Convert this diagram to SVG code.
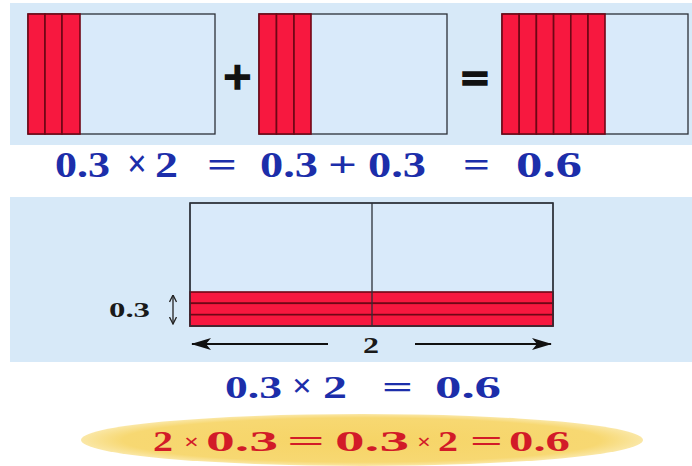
<svg xmlns="http://www.w3.org/2000/svg" width="692" height="466" viewBox="0 0 692 466">
  <defs>
    <style>
      .bg { fill: #d7e9f8; }
      .box { fill: #d9eafa; stroke: #2b3038; stroke-width: 1.3; }
      .strip { fill: #f7183f; stroke: #6e0716; stroke-width: 1.6; }
      .blue { font-family: "Liberation Serif", "Times New Roman", serif; font-weight: bold; fill: #1c2eaa; }
      .red { font-family: "Liberation Serif", "Times New Roman", serif; font-weight: bold; fill: #d21b28; }
      .blk { font-family: "Liberation Serif", "Times New Roman", serif; font-weight: bold; fill: #1a1a1a; }
      .sym { font-family: "DejaVu Sans", sans-serif; font-weight: bold; fill: #111; stroke: #111; stroke-width: 1.5; }
      .arrow { stroke: #111; stroke-width: 2.2; fill: none; }
      .darrow { stroke: #222; stroke-width: 1.3; fill: none; }
    </style>
    <marker id="head" viewBox="0 0 20 12" refX="19" refY="6" markerWidth="20" markerHeight="12" markerUnits="userSpaceOnUse" orient="auto-start-reverse">
      <path d="M0,0 L20,6 L0,12 L5,6 Z" fill="#111"/>
    </marker>
    <marker id="small" viewBox="0 0 8 8" refX="7.5" refY="4" markerWidth="8" markerHeight="8" markerUnits="userSpaceOnUse" orient="auto-start-reverse">
      <path d="M0.5,0.5 L7.5,4 L0.5,7.5" fill="none" stroke="#222" stroke-width="1.3"/>
    </marker>
    <radialGradient id="ellg" cx="0.5" cy="0.5" r="0.5">
      <stop offset="0" stop-color="#f6d466"/>
      <stop offset="0.85" stop-color="#f7d872"/>
      <stop offset="1" stop-color="#fae7a6"/>
    </radialGradient>
  </defs>

  <rect width="692" height="466" fill="#ffffff"/>

  <g id="top-panel">
    <rect class="bg" x="10" y="3" width="682" height="142"/>
    <g id="box1">
      <rect class="box" x="28" y="14" width="187" height="120"/>
      <rect class="strip" x="28" y="14" width="17" height="120"/>
      <rect class="strip" x="45" y="14" width="17" height="120"/>
      <rect class="strip" x="62" y="14" width="18" height="120"/>
    </g>
    <g id="plus">
      <text class="sym" x="237.5" y="89" font-size="38" text-anchor="middle">+</text>
    </g>
    <g id="box2">
      <rect class="box" x="259" y="14" width="188" height="120"/>
      <rect class="strip" x="259" y="14" width="17.5" height="120"/>
      <rect class="strip" x="276.5" y="14" width="17.5" height="120"/>
      <rect class="strip" x="294" y="14" width="17" height="120"/>
    </g>
    <g id="equals">
      <text class="sym" x="475" y="90" font-size="38" text-anchor="middle">=</text>
    </g>
    <g id="box3">
      <rect class="box" x="502" y="14" width="186" height="120"/>
      <rect class="strip" x="502" y="14" width="17.2" height="120"/>
      <rect class="strip" x="519.2" y="14" width="17.2" height="120"/>
      <rect class="strip" x="536.4" y="14" width="17.2" height="120"/>
      <rect class="strip" x="553.6" y="14" width="17.2" height="120"/>
      <rect class="strip" x="570.8" y="14" width="17.2" height="120"/>
      <rect class="strip" x="588" y="14" width="17" height="120"/>
    </g>
  </g>

  <g id="equation1" class="blue" font-size="35">
    <text x="55" y="177" textLength="55" lengthAdjust="spacingAndGlyphs">0.3</text>
    <text x="127" y="177" textLength="20" lengthAdjust="spacingAndGlyphs" font-size="40">×</text>
    <text x="155" y="177" textLength="23" lengthAdjust="spacingAndGlyphs">2</text>
    <text x="207" y="177" textLength="30" lengthAdjust="spacingAndGlyphs">=</text>
    <text x="260" y="177" textLength="58" lengthAdjust="spacingAndGlyphs">0.3</text>
    <text x="328" y="177" textLength="29" lengthAdjust="spacingAndGlyphs">+</text>
    <text x="368" y="177" textLength="58" lengthAdjust="spacingAndGlyphs">0.3</text>
    <text x="463" y="177" textLength="27" lengthAdjust="spacingAndGlyphs">=</text>
    <text x="516" y="177" textLength="66" lengthAdjust="spacingAndGlyphs">0.6</text>
  </g>

  <g id="bottom-panel">
    <rect class="bg" x="10" y="197" width="682" height="165"/>
    <g id="area-box">
      <rect class="box" x="190" y="203" width="363" height="123"/>
      <rect class="strip" x="190" y="292" width="363" height="11.3"/>
      <rect class="strip" x="190" y="303.3" width="363" height="11.4"/>
      <rect class="strip" x="190" y="314.7" width="363" height="11.3"/>
      <line x1="372" y1="203" x2="372" y2="326" stroke="#2b3038" stroke-width="1.3"/>
      <rect x="190" y="203" width="363" height="123" fill="none" stroke="#2b3038" stroke-width="1.3"/>
    </g>
    <g id="label-03">
      <text class="blk" x="109" y="317" font-size="22" textLength="41" lengthAdjust="spacingAndGlyphs">0.3</text>
    </g>
    <g id="label-2">
      <text class="blk" x="363" y="353" font-size="24" textLength="16" lengthAdjust="spacingAndGlyphs">2</text>
    </g>
  </g>

  <g id="connectors">
    <line class="darrow" x1="173" y1="295" x2="173" y2="324" marker-start="url(#small)" marker-end="url(#small)"/>
    <line class="arrow" x1="328" y1="344" x2="192" y2="344" marker-end="url(#head)"/>
    <line class="arrow" x1="415" y1="344" x2="551" y2="344" marker-end="url(#head)"/>
  </g>

  <g id="equation2" class="blue" font-size="32">
    <text x="225" y="398" textLength="57" lengthAdjust="spacingAndGlyphs">0.3</text>
    <text x="292" y="397" textLength="20" lengthAdjust="spacingAndGlyphs" font-size="34">×</text>
    <text x="323" y="398" textLength="24" lengthAdjust="spacingAndGlyphs">2</text>
    <text x="382" y="398" textLength="31" lengthAdjust="spacingAndGlyphs">=</text>
    <text x="435" y="398" textLength="66" lengthAdjust="spacingAndGlyphs">0.6</text>
  </g>

  <g id="summary">
    <ellipse cx="362" cy="440" rx="281" ry="26" fill="url(#ellg)"/>
    <g class="red" font-size="29">
      <text x="153" y="451" textLength="20" lengthAdjust="spacingAndGlyphs">2</text>
      <text x="184" y="449" font-size="22" textLength="15" lengthAdjust="spacingAndGlyphs">×</text>
      <text x="206" y="451" textLength="72" lengthAdjust="spacingAndGlyphs">0.3</text>
      <text x="287" y="451" textLength="38" lengthAdjust="spacingAndGlyphs">=</text>
      <text x="335" y="451" textLength="74" lengthAdjust="spacingAndGlyphs">0.3</text>
      <text x="417" y="449" font-size="22" textLength="14" lengthAdjust="spacingAndGlyphs">×</text>
      <text x="438" y="451" textLength="20" lengthAdjust="spacingAndGlyphs">2</text>
      <text x="470" y="451" textLength="33" lengthAdjust="spacingAndGlyphs">=</text>
      <text x="509" y="451" textLength="61" lengthAdjust="spacingAndGlyphs">0.6</text>
    </g>
  </g>
</svg>
